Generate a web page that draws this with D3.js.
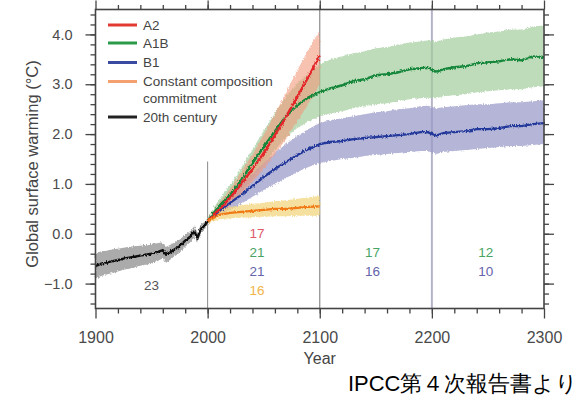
<!DOCTYPE html>
<style>
body { margin: 0; background: #fff; }
text { font-family: "Liberation Sans", Arial, sans-serif; }
</style>

<script src="https://d3js.org/d3.v7.min.js"></script>

<body>
<script>

// ---- data ----
var histYears = [1900,1905,1910,1915,1920,1925,1930,1935,1940,1945,1950,1955,1960,1963,1966,1970,1975,1980,1985,1988,1991,1994,1997,2000];
var histVals  = [-0.65,-0.6,-0.58,-0.55,-0.53,-0.5,-0.48,-0.46,-0.44,-0.42,-0.4,-0.37,-0.33,-0.42,-0.38,-0.32,-0.25,-0.14,-0.05,0.05,-0.08,0.1,0.15,0.25];
var histSpread = [0.25,0.25,0.24,0.24,0.23,0.22,0.22,0.21,0.2,0.2,0.2,0.18,0.16,0.16,0.15,0.14,0.13,0.12,0.11,0.1,0.1,0.09,0.08,0.06];

var yrs21 = [2000,2010,2020,2030,2040,2050,2060,2070,2080,2090,2100];
var a2Vals = [0.25,0.48,0.72,1.0,1.3,1.62,1.98,2.35,2.75,3.15,3.58];
var a2Hi   = [0.3,0.6,0.9,1.24,1.6,1.98,2.4,2.84,3.28,3.7,4.08];
var a2Lo   = [0.2,0.38,0.56,0.8,1.04,1.3,1.6,1.9,2.26,2.62,3.0];

var constVals = [0.25,0.38,0.42,0.44,0.46,0.48,0.5,0.5,0.52,0.54,0.55];
var constHi   = [0.3,0.48,0.54,0.57,0.6,0.62,0.65,0.67,0.7,0.73,0.76];
var constLo   = [0.2,0.29,0.31,0.32,0.33,0.34,0.35,0.35,0.36,0.36,0.36];

var yrsLong = [2000,2010,2020,2030,2040,2050,2060,2070,2080,2090,2100,2110,2120,2130,2140,2150,2160,2170,2180,2190,2196,2204,2210,2220,2230,2240,2250,2260,2270,2280,2290,2300];
var a1bVals = [0.25,0.55,0.78,1.08,1.42,1.74,2.06,2.36,2.58,2.74,2.84,2.92,2.98,3.06,3.1,3.18,3.2,3.24,3.3,3.32,3.33,3.25,3.3,3.34,3.36,3.42,3.44,3.46,3.5,3.48,3.56,3.55];
var a1bHi   = [0.32,0.68,0.98,1.32,1.7,2.06,2.42,2.76,3.02,3.22,3.4,3.5,3.56,3.62,3.66,3.72,3.75,3.8,3.84,3.86,3.88,3.86,3.9,3.94,3.96,4.0,4.04,4.06,4.1,4.1,4.16,4.18];
var a1bLo   = [0.18,0.42,0.6,0.85,1.12,1.4,1.68,1.94,2.12,2.26,2.36,2.42,2.46,2.52,2.56,2.6,2.62,2.66,2.7,2.72,2.73,2.72,2.76,2.78,2.8,2.84,2.86,2.88,2.9,2.9,2.94,2.96];

var b1Vals = [0.25,0.45,0.62,0.78,0.96,1.14,1.3,1.44,1.58,1.7,1.8,1.84,1.86,1.9,1.92,1.94,1.96,1.98,2.0,2.04,2.04,1.97,2.02,2.04,2.06,2.1,2.1,2.12,2.16,2.16,2.2,2.22];
var b1Hi   = [0.3,0.55,0.78,0.98,1.2,1.42,1.62,1.8,1.96,2.1,2.22,2.28,2.32,2.36,2.4,2.44,2.46,2.5,2.52,2.56,2.57,2.52,2.54,2.56,2.58,2.6,2.6,2.62,2.64,2.64,2.66,2.68];
var b1Lo   = [0.2,0.36,0.48,0.6,0.74,0.88,1.0,1.12,1.24,1.34,1.42,1.46,1.5,1.52,1.56,1.58,1.6,1.62,1.64,1.66,1.66,1.6,1.64,1.66,1.68,1.7,1.72,1.74,1.76,1.76,1.78,1.8];

// model counts shown under the curves
var counts = [
  {year: 1950, row: 2.75, text: "23", color: "#555"},
  {year: 2044, row: 0, text: "17", color: "#e0586a"},
  {year: 2044, row: 1, text: "21", color: "#48a464"},
  {year: 2044, row: 2, text: "21", color: "#6464aa"},
  {year: 2044, row: 3, text: "16", color: "#f0b448"},
  {year: 2147, row: 1, text: "17", color: "#48a464"},
  {year: 2147, row: 2, text: "16", color: "#6464aa"},
  {year: 2248, row: 1, text: "12", color: "#48a464"},
  {year: 2248, row: 2, text: "10", color: "#6464aa"}
];

var legendNames = [["A2"], ["A1B"], ["B1"], ["Constant composition", "commitment"], ["20th century"]];
var legendColors = ["#e23a30", "#2a9a48", "#3a4aa0", "#f4a070", "#222"];

var xTicks = [1900, 2000, 2100, 2200, 2300];
var yTicks = [-1, 0, 1, 2, 3, 4];

// ---- layout ----
var width = 579, height = 398;
var mLeft = 95.5, mRight = 544, mTop = 9.5, mBottom = 308.5;

var svg = d3.select("body").append("svg")
    .attr("width", width)
    .attr("height", height);

var x = d3.scaleLinear().domain([1900, 2300]).range([mLeft, mRight]);
var y = d3.scaleLinear().domain([-1.5, 4.5]).range([mBottom, mTop]);

function zip(years, vals, lo, hi) {
  return years.map(function(d, i) { return {year: d, v: vals[i], lo: lo[i], hi: hi[i]}; });
}

var hist = histYears.map(function(d, i) {
  return {year: d, v: histVals[i], lo: histVals[i] - histSpread[i], hi: histVals[i] + histSpread[i]};
});
var a2 = zip(yrs21, a2Vals, a2Lo, a2Hi);
var cc = zip(yrs21, constVals, constLo, constHi);
var a1b = zip(yrsLong, a1bVals, a1bLo, a1bHi);
var b1 = zip(yrsLong, b1Vals, b1Lo, b1Hi);

// rough, hairy edges like the model spread in the original
var defs = svg.append("defs");
var jit = defs.append("filter").attr("id", "jitter")
    .attr("x", "-5%").attr("y", "-10%").attr("width", "110%").attr("height", "120%");
jit.append("feTurbulence").attr("type", "fractalNoise")
    .attr("baseFrequency", "0.9 0.35").attr("numOctaves", 2).attr("seed", 3).attr("result", "n");
jit.append("feDisplacementMap").attr("in", "SourceGraphic").attr("in2", "n")
    .attr("scale", 3.5).attr("xChannelSelector", "R").attr("yChannelSelector", "G");

var area = d3.area()
    .x(function(d) { return x(d.year); })
    .y0(function(d) { return y(d.lo); })
    .y1(function(d) { return y(d.hi); });

var line = d3.line()
    .x(function(d) { return x(d.year); })
    .y(function(d) { return y(d.v); });

// separators
svg.append("line")
    .attr("x1", x(2000)).attr("x2", x(2000))
    .attr("y1", y(1.45)).attr("y2", mBottom)
    .attr("stroke", "#888").attr("stroke-width", 1);
svg.append("line")
    .attr("x1", x(2100)).attr("x2", x(2100))
    .attr("y1", mTop).attr("y2", mBottom)
    .attr("stroke", "#8a8a8a").attr("stroke-width", 1.2);
svg.append("line")
    .attr("x1", x(2200)).attr("x2", x(2200))
    .attr("y1", mTop).attr("y2", mBottom)
    .attr("stroke", "#b4b4c8").attr("stroke-width", 2);

var bands = svg.append("g").attr("filter", "url(#jitter)");
bands.append("path").datum(a1b).attr("d", area).attr("fill", "#a2cc9c").attr("fill-opacity", 0.7);
bands.append("path").datum(b1).attr("d", area).attr("fill", "#9898c8").attr("fill-opacity", 0.72);
bands.append("path").datum(a2).attr("d", area).attr("fill", "#f29a7a").attr("fill-opacity", 0.6);
bands.append("path").datum(cc).attr("d", area).attr("fill", "#f3d67e").attr("fill-opacity", 0.75);
bands.append("path").datum(hist).attr("d", area).attr("fill", "#9c9c9c").attr("fill-opacity", 0.85);

var lines = svg.append("g").attr("filter", "url(#jitter)").attr("fill", "none").attr("stroke-width", 2.4);
lines.append("path").datum(b1).attr("d", line).attr("stroke", "#23399a");
lines.append("path").datum(a1b).attr("d", line).attr("stroke", "#13863a");
lines.append("path").datum(a2).attr("d", line).attr("stroke", "#e4262a");
lines.append("path").datum(cc).attr("d", line).attr("stroke", "#f07a18");
lines.append("path").datum(hist).attr("d", line).attr("stroke", "#111");

// counts
svg.append("g").selectAll("text")
  .data(counts)
  .enter().append("text")
    .attr("x", function(d) { return x(d.year); })
    .attr("y", function(d) { return 238 + d.row * 19; })
    .attr("text-anchor", "middle")
    .attr("font-size", 13.5)
    .attr("fill", function(d) { return d.color; })
    .text(function(d) { return d.text; });

// axes
var axisColor = "#444";
function styleAxis(g) {
  g.select(".domain").remove();
  g.selectAll("line").attr("stroke", axisColor).attr("stroke-width", 1.3);
  g.selectAll("text").attr("fill", "#4a4a4a").attr("font-family", "Liberation Sans, Arial, sans-serif");
}

svg.append("g").attr("transform", "translate(" + mLeft + ",0)")
    .call(d3.axisLeft(y).tickValues(yTicks).tickSize(10).tickPadding(13).tickFormat(d3.format(".1f")))
    .attr("font-size", 14.5)
    .call(styleAxis);
svg.append("g").attr("transform", "translate(" + mLeft + ",0)")
    .call(d3.axisLeft(y).tickValues(d3.range(-1.4, 4.5, 0.2)).tickSize(5).tickFormat(""))
    .call(styleAxis);
svg.append("g").attr("transform", "translate(" + mRight + ",0)")
    .call(d3.axisRight(y).tickValues(yTicks).tickSize(10).tickFormat(""))
    .call(styleAxis);
svg.append("g").attr("transform", "translate(" + mRight + ",0)")
    .call(d3.axisRight(y).tickValues(d3.range(-1.4, 4.5, 0.2)).tickSize(5).tickFormat(""))
    .call(styleAxis);

svg.append("g").attr("transform", "translate(0," + mBottom + ")")
    .call(d3.axisBottom(x).tickValues(xTicks).tickSize(10).tickPadding(13).tickFormat(d3.format("d")))
    .attr("font-size", 16)
    .call(styleAxis);
svg.append("g").attr("transform", "translate(0," + mBottom + ")")
    .call(d3.axisBottom(x).tickValues(d3.range(1920, 2300, 20)).tickSize(5).tickFormat(""))
    .call(styleAxis);
svg.append("g").attr("transform", "translate(0," + mTop + ")")
    .call(d3.axisTop(x).tickValues(xTicks).tickSize(9).tickFormat(""))
    .call(styleAxis);
svg.append("g").attr("transform", "translate(0," + mTop + ")")
    .call(d3.axisTop(x).tickValues(d3.range(1920, 2300, 20)).tickSize(4.5).tickFormat(""))
    .call(styleAxis);

svg.append("rect")
    .attr("x", mLeft).attr("y", mTop)
    .attr("width", mRight - mLeft).attr("height", mBottom - mTop)
    .attr("fill", "none").attr("stroke", axisColor).attr("stroke-width", 1.6);

// titles
svg.append("text")
    .attr("x", x(2100)).attr("y", 364)
    .attr("text-anchor", "middle")
    .attr("font-size", 16)
    .attr("fill", "#444")
    .text("Year");

svg.append("text")
    .attr("transform", "translate(37.5,164) rotate(-90)")
    .attr("text-anchor", "middle")
    .attr("font-size", 16.5)
    .attr("fill", "#444")
    .text("Global surface warming (°C)");

// legend
var legendY = [25, 43, 62.5, 81.5, 117];
var lg = svg.append("g");
legendNames.forEach(function(names, i) {
  lg.append("line")
      .attr("x1", 108).attr("x2", 137)
      .attr("y1", legendY[i]).attr("y2", legendY[i])
      .attr("stroke", legendColors[i]).attr("stroke-width", 3);
  var t = lg.append("text")
      .attr("x", 143).attr("y", legendY[i] + 4.5)
      .attr("font-size", 13.5)
      .attr("fill", "#444");
  names.forEach(function(n, j) {
    t.append("tspan").attr("x", 143).attr("dy", j ? 16.8 : 0).text(n);
  });
});

// source note
svg.append("text")
    .attr("x", 348).attr("y", 391)
    .attr("font-size", 22)
    .attr("textLength", 230)
    .attr("lengthAdjust", "spacingAndGlyphs")
    .attr("fill", "#000")
    .attr("font-family", "Liberation Sans, 'Noto Sans CJK JP', sans-serif")
    .text("IPCC第４次報告書より");

</script>
